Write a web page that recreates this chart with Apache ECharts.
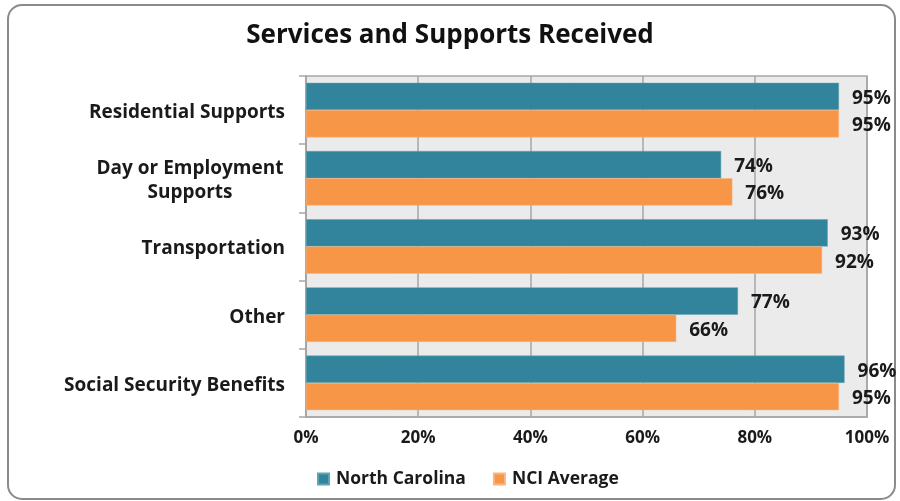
<!DOCTYPE html>
<html>
<head>
<meta charset="utf-8">
<script src="https://cdn.jsdelivr.net/npm/echarts@6/dist/echarts.min.js"></script>
<style>
html,body{margin:0;padding:0;background:#fff;}
#c{width:900px;height:501px;}
</style>
</head>
<body>
<div id="c"></div>
<script>
const titleText = 'Services and Supports Received';
const categories = ['Residential Supports', 'Day or Employment\nSupports', 'Transportation', 'Other', 'Social Security Benefits'];
const seriesNames = ['North Carolina', 'NCI Average'];
const northCarolina = [95, 74, 93, 77, 96];
const nciAverage = [95, 76, 92, 66, 95];
const xTicks = [0, 20, 40, 60, 80, 100];

const FONT = '"Open Sans"';
const chart = echarts.init(document.getElementById('c'), null, {renderer: 'canvas'});

const labelStyle = {show: true, position: 'right', distance: 13, offset: [0, 2], formatter: '{c}%', color: '#1a1a1a', fontWeight: 'bold', fontSize: 19, fontFamily: FONT};

chart.setOption({
  animation: false,
  backgroundColor: '#fff',
  graphic: [{
    type: 'rect', z: -10, silent: true,
    shape: {x: 8, y: 5, width: 887, height: 494, r: 14},
    style: {fill: 'none', stroke: '#8a8a8a', lineWidth: 2}
  }],
  title: {
    text: titleText, left: 'center', top: 18,
    textStyle: {fontFamily: FONT, fontWeight: 'bold', fontSize: 26, color: '#111'}
  },
  legend: {
    bottom: 8, left: 312,
    itemWidth: 11, itemHeight: 11, itemGap: 27,
    icon: 'rect',
    textStyle: {fontFamily: FONT, fontWeight: 'bold', fontSize: 17.5, color: '#1a1a1a', padding: [0, 0, 0, 2]},
    data: seriesNames
  },
  grid: {
    left: 306, right: 33, top: 76, bottom: 84,
    show: true, backgroundColor: '#ebebeb', borderColor: '#a6a6a6', borderWidth: 1.5
  },
  xAxis: {
    type: 'value', min: xTicks[0], max: xTicks[xTicks.length - 1], interval: 20,
    axisLine: {show: true, lineStyle: {color: '#a6a6a6', width: 1.5}},
    axisTick: {show: false},
    splitLine: {show: true, lineStyle: {color: '#a6a6a6', width: 1.5}},
    axisLabel: {formatter: '{value}%', margin: 13, color: '#1a1a1a', fontWeight: 'bold', fontSize: 17, fontFamily: FONT}
  },
  yAxis: {
    type: 'category', data: categories, inverse: true,
    axisLine: {show: true, lineStyle: {color: '#a6a6a6', width: 1.5}},
    axisTick: {show: true, length: 7, lineStyle: {color: '#a6a6a6', width: 1.5}},
    axisLabel: {
      margin: 21, color: '#1a1a1a', fontWeight: 'bold', fontSize: 19, fontFamily: FONT, lineHeight: 24,
      padding: [5, 0, 0, 0],
      formatter: function (v) {
        if (v.indexOf('\n') >= 0) {
          return v.split('\n').map(function (s) { return '{w|' + s + '}'; }).join('\n');
        }
        return v;
      },
      rich: {w: {width: 190, align: 'center', color: '#1a1a1a', fontWeight: 'bold', fontSize: 19, fontFamily: FONT, lineHeight: 24}}
    }
  },
  series: [
    {name: seriesNames[0], type: 'bar', data: northCarolina, barGap: '0%', barCategoryGap: '20%',
     itemStyle: {color: '#31849b', borderColor: '#5fa3b5', borderWidth: 0.5}, label: labelStyle},
    {name: seriesNames[1], type: 'bar', data: nciAverage, barGap: '0%', barCategoryGap: '20%',
     itemStyle: {color: '#f79646', borderColor: '#fbb57f', borderWidth: 0.5}, label: labelStyle}
  ]
});
</script>
</body>
</html>
